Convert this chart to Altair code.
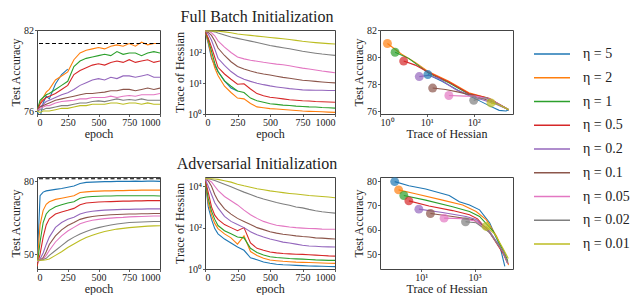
import altair as alt
import pandas as pd

FONT = "Liberation Serif"
ETAS = ["5", "2", "1", "0.5", "0.2", "0.1", "0.05", "0.02", "0.01"]
COLORS = ["#1f77b4", "#ff7f0e", "#2ca02c", "#d62728", "#9467bd",
          "#8c564b", "#e377c2", "#7f7f7f", "#bcbd22"]
EPOCHS = [0, 25, 50, 75, 100, 150, 200, 250, 300, 350, 400, 450, 500,
          550, 600, 650, 700, 750, 800, 850, 900, 950, 1000]
BEST_ACC = 81.0
NA = [None] * 15

# ---------------- Full batch initialization: accuracy vs epoch
FB_ACC = {
    "5": [76.0, 75.5, 76.6, 77.1, 76.9, 78.0, 78.7, 79.1] + NA,
    "2": [76.0, 76.6, 77.0, 77.4, 77.6, 78.3, 78.6, 78.9, 79.8, 80.3, 80.5, 80.6, 80.7, 80.6, 80.8, 80.9, 80.8, 81.0, 80.8, 81.1, 80.9, 81.0, 81.0],
    "1": [76.0, 76.8, 77.0, 77.2, 77.3, 77.6, 77.9, 78.2, 79.3, 79.7, 79.9, 80.0, 80.1, 80.2, 80.1, 80.4, 80.2, 80.3, 80.3, 80.1, 80.3, 80.4, 80.3],
    "0.5": [76.0, 76.5, 76.8, 77.0, 77.1, 77.3, 77.6, 77.9, 78.7, 79.0, 79.2, 79.4, 79.5, 79.4, 79.6, 79.7, 79.6, 79.8, 79.6, 79.7, 79.8, 79.6, 79.7],
    "0.2": [76.0, 76.3, 76.5, 76.7, 76.8, 77.0, 77.2, 77.35, 77.6, 77.9, 78.1, 78.3, 78.4, 78.3, 78.5, 78.4, 78.6, 78.6, 78.5, 78.6, 78.7, 78.5, 78.5],
    "0.1": [76.0, 76.3, 76.4, 76.5, 76.6, 76.8, 76.9, 77.0, 77.1, 77.2, 77.3, 77.3, 77.35, 77.4, 77.5, 77.5, 77.6, 77.6, 77.5, 77.6, 77.7, 77.6, 77.7],
    "0.05": [76.0, 76.2, 76.3, 76.4, 76.4, 76.6, 76.7, 76.75, 76.8, 76.9, 76.9, 77.0, 77.0, 77.0, 77.1, 77.0, 77.1, 77.15, 77.1, 77.2, 77.2, 77.2, 77.3],
    "0.02": [76.0, 76.1, 76.1, 76.2, 76.2, 76.3, 76.4, 76.4, 76.5, 76.6, 76.6, 76.7, 76.75, 76.7, 76.8, 76.9, 76.8, 76.85, 76.8, 76.9, 76.8, 76.8, 76.8],
    "0.01": [76.0, 75.9, 76.0, 76.0, 76.0, 76.1, 76.2, 76.2, 76.3, 76.4, 76.4, 76.5, 76.5, 76.5, 76.6, 76.6, 76.5, 76.6, 76.6, 76.5, 76.6, 76.5, 76.5],
}

# ---------------- Full batch initialization: trace of Hessian vs epoch
FB_TRACE = {
    "5": [500, 200, 65, 38, 24, 12, 7, 5.6] + NA,
    "2": [500, 220, 75, 32, 18, 8, 5, 3.3, 3.1, 2.2, 1.7, 1.6, 1.5, 1.45, 1.4, 1.35, 1.3, 1.25, 1.22, 1.2, 1.18, 1.15, 1.13],
    "1": [500, 260, 110, 45, 24, 12, 8, 5.6, 5.0, 3.3, 2.7, 2.4, 2.15, 2.05, 1.95, 1.9, 1.8, 1.75, 1.7, 1.68, 1.62, 1.6, 1.55],
    "0.5": [500, 300, 150, 70, 33, 20, 13.5, 9.3, 9.6, 6.5, 4.6, 3.9, 3.5, 3.3, 3.1, 2.9, 2.8, 2.7, 2.65, 2.55, 2.5, 2.45, 2.4],
    "0.2": [500, 400, 250, 130, 65, 38, 24, 17, 13.5, 11.5, 10, 9, 8.2, 7.6, 7.1, 6.7, 6.4, 6.1, 6.0, 5.9, 5.9, 5.8, 5.8],
    "0.1": [500, 450, 360, 240, 140, 80, 50, 35, 29, 25, 22, 20, 18.5, 17, 15.5, 14.5, 13.5, 12.5, 12, 11.5, 11, 10.6, 10.3],
    "0.05": [500, 490, 440, 350, 240, 150, 100, 72, 62, 56, 52, 48, 45, 42, 40, 37, 34, 31, 29, 27, 25, 23.5, 22],
    "0.02": [500, 500, 490, 470, 430, 370, 320, 288, 260, 235, 212, 190, 170, 155, 143, 132, 120, 110, 102, 95, 89, 85, 81],
    "0.01": [500, 500, 500, 495, 490, 470, 440, 400, 380, 360, 342, 325, 309, 294, 280, 265, 248, 232, 220, 210, 202, 195, 190],
}

# ---------------- Full batch: accuracy vs trace trajectories (final point first)
FB_PATH_TRACE = {
    "5": [10.5, 21, 48, 110, 213, 350, 490, 560],
    "2": [1.44, 2.9, 5.65, 11, 29.5, 79, 182, 297, 560],
    "1": [2.1, 4.1, 11, 29.5, 79, 213, 560],
    "0.5": [3.2, 5.65, 11, 29.5, 79, 213, 560],
    "0.2": [6.9, 11, 18, 41, 110, 300, 560],
    "0.1": [13.3, 25, 48, 110, 300, 560],
    "0.05": [29.5, 67, 110, 213, 560],
    "0.02": [100, 182, 297, 560],
    "0.01": [234, 330, 560],
}
FB_PATH_ACC = {
    "5": [78.7, 78.2, 77.5, 76.9, 76.4, 76.05, 76.0, 76.1],
    "2": [81.0, 80.2, 79.6, 78.9, 78.2, 77.35, 77.0, 76.6, 76.1],
    "1": [80.35, 79.9, 78.8, 78.1, 77.25, 76.9, 76.1],
    "0.5": [79.7, 79.4, 78.85, 78.15, 77.3, 76.95, 76.1],
    "0.2": [78.55, 78.65, 78.4, 77.6, 77.0, 76.5, 76.1],
    "0.1": [77.7, 77.6, 77.4, 77.1, 76.6, 76.1],
    "0.05": [77.15, 77.1, 77.1, 76.9, 76.1],
    "0.02": [76.8, 77.0, 76.6, 76.1],
    "0.01": [76.6, 76.5, 76.1],
}

# ---------------- Adversarial initialization: accuracy vs epoch
AD_ACC = {
    "5": [45, 74, 75.5, 76, 76.2, 76.6, 77, 77.5, 78, 79, 79.5, 79.6, 79.7, 79.8, 79.8, 79.9, 79.9, 79.9, 80, 79.9, 80, 80, 79.9],
    "2": [45, 62, 68, 70.5, 71.5, 72.5, 73, 73.5, 74, 75.3, 75.6, 75.8, 75.9, 76, 76, 76.1, 76.1, 76.2, 76.2, 76.3, 76.3, 76.3, 76.3],
    "1": [45, 55, 63, 66.5, 68, 69.5, 70.3, 71, 71.5, 73, 73.5, 73.7, 73.8, 73.9, 73.9, 74, 74, 74, 74, 74, 74, 74, 73.9],
    "0.5": [45, 50, 57, 62, 64.5, 66.5, 67.3, 68, 68.8, 70.3, 71, 71.2, 71.4, 71.5, 71.6, 71.7, 71.8, 71.8, 71.9, 71.9, 72, 72, 72],
    "0.2": [47, 48, 50.5, 54, 57, 61, 63, 64.3, 65.2, 66.5, 67.2, 67.6, 67.9, 68.1, 68.2, 68.3, 68.4, 68.4, 68.5, 68.5, 68.6, 68.6, 68.6],
    "0.1": [47, 47.5, 48.5, 51, 54, 57.5, 60, 61.8, 63, 64.3, 65, 65.5, 65.8, 66, 66.2, 66.3, 66.4, 66.5, 66.5, 66.6, 66.6, 66.7, 66.7],
    "0.05": [47, 47.5, 48, 49.5, 51.5, 55, 57.5, 59.5, 61, 62.5, 63.3, 63.9, 64.3, 64.6, 64.8, 65, 65.1, 65.3, 65.4, 65.5, 65.6, 65.7, 65.7],
    "0.02": [47.5, 47.5, 47.8, 48.3, 49.5, 51.5, 53.5, 55.5, 57, 58.3, 59.3, 60.2, 60.9, 61.5, 62, 62.4, 62.7, 63, 63.1, 63.2, 63.3, 63.4, 63.4],
    "0.01": [47.5, 47.5, 47.5, 47.7, 48, 49.5, 51, 52.7, 54.2, 55.6, 56.8, 57.8, 58.6, 59.3, 59.8, 60.3, 60.6, 60.9, 61.1, 61.3, 61.5, 61.6, 61.7],
}

# ---------------- Adversarial initialization: trace of Hessian vs epoch
AD_TRACE = {
    "5": [23000, 1000, 250, 90, 50, 28, 18, 11.5, 8, 3.5, 2.8, 2.2, 1.9, 1.7, 1.6, 1.55, 1.5, 1.45, 1.4, 1.38, 1.35, 1.32, 1.3],
    "2": [23000, 1600, 400, 160, 90, 50, 32, 16, 40, 7, 4.5, 3.3, 2.7, 2.5, 2.35, 2.25, 2.15, 2.1, 2.05, 2.0, 1.95, 1.9, 1.86],
    "1": [23000, 2500, 630, 250, 126, 71, 50, 35, 32, 10, 6.3, 4.8, 3.9, 3.6, 3.4, 3.2, 3.1, 3.0, 2.9, 2.75, 2.7, 2.6, 2.6],
    "0.5": [23000, 5000, 1000, 400, 250, 140, 100, 71, 100, 18, 10, 8, 6.6, 6.0, 5.6, 5.4, 5.2, 5.1, 4.9, 4.7, 4.5, 4.3, 4.2],
    "0.2": [23000, 10000, 4000, 1600, 900, 350, 200, 140, 100, 63, 45, 35, 28, 24, 20, 18, 16, 14, 13, 12.6, 12, 11.7, 11.5],
    "0.1": [23000, 18000, 10000, 4000, 2000, 800, 450, 280, 200, 140, 100, 80, 63, 54, 48, 44, 40, 37, 35, 32, 31, 29.5, 28],
    "0.05": [23000, 20000, 16000, 10000, 6300, 3200, 2000, 1250, 700, 420, 280, 200, 160, 130, 118, 107, 100, 95, 91, 89, 85, 83, 83],
    "0.02": [23000, 23000, 21000, 19000, 16500, 12600, 9500, 7000, 5200, 4000, 3000, 2400, 2000, 1650, 1400, 1200, 1000, 900, 760, 660, 590, 540, 500],
    "0.01": [23000, 23000, 22900, 22400, 21400, 18600, 15800, 12600, 10500, 8900, 7600, 6800, 6000, 5400, 4900, 4500, 4200, 3900, 3600, 3400, 3200, 3000, 2800],
}

# ---------------- Adversarial: accuracy vs trace trajectories (final point first)
AD_PATH_TRACE = {
    "5": [1.0, 3.4, 14.6, 112, 270, 650, 1550, 3700, 8900, 13800],
    "2": [1.4, 6, 63, 360, 1150, 2750, 6700, 16000, 19000],
    "1": [2.2, 14.6, 150, 650, 1550, 5000, 13800, 18000],
    "0.5": [3.4, 19.5, 150, 650, 1300, 3700, 12000, 18000],
    "0.2": [8.1, 63, 480, 1150, 3700, 12000, 18000],
    "0.1": [22, 150, 870, 2750, 12000, 18000],
    "0.05": [72, 360, 1150, 3700, 12000, 18000],
    "0.02": [460, 1150, 3700, 12000, 18000],
    "0.01": [2750, 5800, 12000, 18600],
}
AD_PATH_ACC = {
    "5": [79.8, 78.1, 76.8, 74.1, 71.5, 70.2, 68.2, 62.9, 53.5, 45],
    "2": [76.4, 74.8, 72.2, 70.2, 67.5, 64.2, 57.5, 48.2, 45.5],
    "1": [74.1, 72.2, 69.5, 67.5, 65.5, 59.5, 50.2, 47],
    "0.5": [71.9, 69.8, 67.9, 66.2, 64.5, 58.9, 50.2, 46],
    "0.2": [68.5, 67.1, 65.5, 64.2, 59.5, 50.9, 46],
    "0.1": [66.7, 65.5, 64.2, 60.9, 50.9, 46],
    "0.05": [64.8, 64.6, 63.5, 58.9, 50.9, 46],
    "0.02": [63.3, 62.9, 58.9, 50.9, 46.5],
    "0.01": [61.4, 58.2, 52.2, 48.2],
}


def curves(d):
    rows = []
    for eta in ETAS:
        for e, v in zip(EPOCHS, d[eta]):
            if v is not None:
                rows.append({"eta": eta, "epoch": e, "v": v})
    return pd.DataFrame(rows)


def paths(tr, acc):
    rows = []
    for eta in ETAS:
        for i, (t, a) in enumerate(zip(tr[eta], acc[eta])):
            rows.append({"eta": eta, "i": i, "t": t, "a": a})
    return pd.DataFrame(rows)


COLOR = alt.Color("eta:N", scale=alt.Scale(domain=ETAS, range=COLORS), legend=None)
POW = ("datum.value >= 9999 ? '10⁴' : datum.value >= 999 ? '10³' : "
       "datum.value >= 99 ? '10²' : datum.value >= 9 ? '10¹' : '10⁰'")
XEPOCH = alt.X("epoch:Q", scale=alt.Scale(domain=[0, 1000], nice=False),
               axis=alt.Axis(values=[0, 250, 500, 750, 1000], format="d", title="epoch"))


def acc_time(d, ydom, yvals, w, h):
    ysc = alt.Scale(domain=ydom, nice=False, zero=False)
    lines = alt.Chart(curves(d)).mark_line(strokeWidth=1.1, clip=True).encode(
        x=XEPOCH,
        y=alt.Y("v:Q", scale=ysc, axis=alt.Axis(values=yvals, title="Test Accuracy")),
        color=COLOR,
    )
    best = alt.Chart(pd.DataFrame({"best": [BEST_ACC]})).mark_rule(
        color="black", strokeDash=[4, 2.5], strokeWidth=1.1).encode(
        y=alt.Y("best:Q", scale=ysc))
    return alt.layer(lines, best).properties(width=w, height=h)


def trace_time(d, ydom, yvals, w, h, title):
    return alt.Chart(curves(d)).mark_line(strokeWidth=1.1, clip=True).encode(
        x=XEPOCH,
        y=alt.Y("v:Q", scale=alt.Scale(type="log", domain=ydom, nice=False),
                axis=alt.Axis(values=yvals, labelExpr=POW, title="Trace of Hessian")),
        color=COLOR,
    ).properties(width=w, height=h,
                 title=alt.TitleParams(title, offset=5, dx=-13, anchor="middle"))


def acc_trace(tr, acc, xdom, xvals, ydom, yvals, w, h):
    df = paths(tr, acc)
    x = alt.X("t:Q", scale=alt.Scale(type="log", domain=xdom, nice=False),
              axis=alt.Axis(values=xvals, labelExpr=POW, title="Trace of Hessian"))
    y = alt.Y("a:Q", scale=alt.Scale(domain=ydom, nice=False, zero=False),
              axis=alt.Axis(values=yvals, title="Test Accuracy"))
    lines = alt.Chart(df).mark_line(strokeWidth=1.1, clip=True).encode(
        x=x, y=y, color=COLOR, order=alt.Order("i:Q"))
    dots = alt.Chart(df[df["i"] == 0]).mark_circle(size=80, opacity=0.7, clip=True).encode(
        x=x, y=y, color=COLOR)
    return alt.layer(lines, dots).properties(width=w, height=h)


H1, H2 = 84, 92
W1, W2, W3 = 123, 130, 133

p1 = acc_time(FB_ACC, [75.78, 82], [76, 78, 80, 82], W1, H1)
p2 = trace_time(FB_TRACE, [1, 540], [1, 10, 100], W2, H1, "Full Batch Initialization")
p3 = acc_trace(FB_PATH_TRACE, FB_PATH_ACC, [1, 690], [1, 10, 100],
               [75.78, 82], [76, 78, 80, 82], W3, H1)
q1 = acc_time(AD_ACC, [43.9, 81.7], [50, 60, 70, 80], W1, H2)
q2 = trace_time(AD_TRACE, [1, 28000], [1, 100, 10000], W2, H2, "Adversarial Initialization")
q3 = acc_trace(AD_PATH_TRACE, AD_PATH_ACC, [0.28, 28000], [10, 1000],
               [43.9, 81.7], [50, 60, 70, 80], W3, H2)

leg_df = pd.DataFrame({"eta": ETAS, "k": list(range(len(ETAS))),
                       "lab": ["η = " + e for e in ETAS]})
leg_y = alt.Y("k:Q", scale=alt.Scale(domain=[0, 8], range=[24, 214]), axis=None)
leg_rule = alt.Chart(leg_df).mark_rule(strokeWidth=1.5).encode(
    x=alt.value(-24), x2=alt.value(12), y=leg_y, color=COLOR)
leg_text = alt.Chart(leg_df).mark_text(
    align="left", baseline="middle", font=FONT, fontSize=14, color="#222").encode(
    x=alt.value(25), y=leg_y, text="lab:N")
legend = alt.layer(leg_rule, leg_text).properties(
    width=60, height=H1, view=alt.ViewBackground(strokeOpacity=0))

chart = alt.concat(
    p1, p2, p3, legend, q1, q2, q3,
    columns=4, spacing={"row": 63, "column": 45}, bounds="flush", align="each",
).properties(
    padding={"left": 0, "top": 0, "right": 0, "bottom": 0},
).configure_axis(
    grid=False, domain=False, tickSize=2.5, tickColor="#333", tickWidth=0.8,
    labelFont=FONT, titleFont=FONT, labelFontSize=10, titleFontSize=12,
    labelColor="#222", titleColor="#222", titleFontWeight="normal",
    labelPadding=1, titlePadding=1,
).configure_view(
    stroke="#444", strokeWidth=1,
).configure_title(
    font=FONT, fontSize=16, fontWeight="normal", color="#222",
)

chart.save("out.html", embed_options={"renderer": "svg", "actions": False})
